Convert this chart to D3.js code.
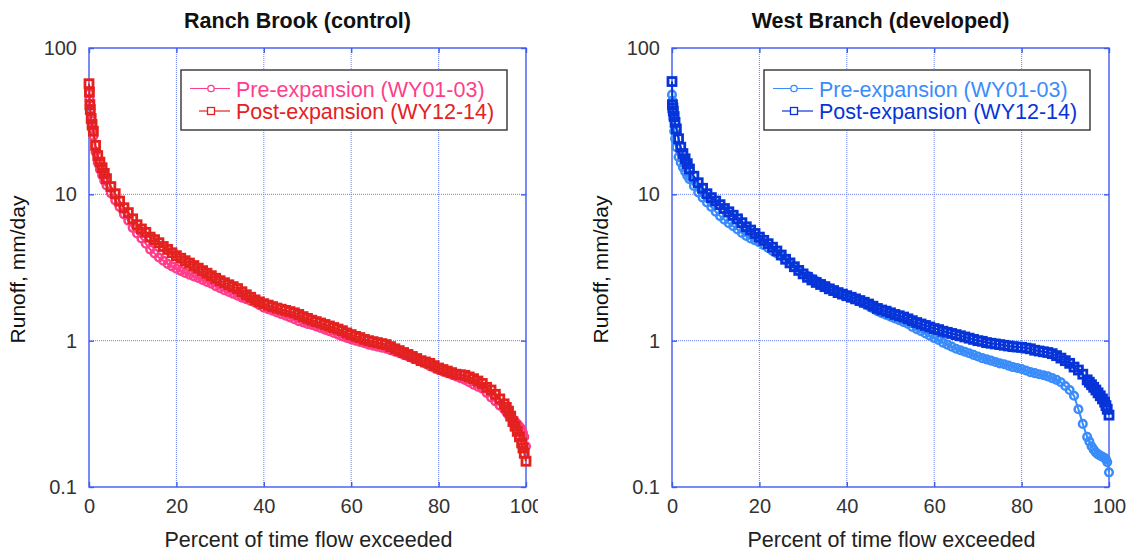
<!DOCTYPE html>
<html>
<head>
<meta charset="utf-8">
<script src="https://cdn.jsdelivr.net/npm/d3@7"></script>
<style>
  body { margin: 0; background: #fff; }
  svg { display: block; font-family: "Liberation Sans", Arial, Helvetica, sans-serif; }
</style>
</head>
<body>
<div id="chart"></div>
<script>
// percent of time flow exceeded (shared by all four curves)
const exceedPct = [0, 0.1, 0.2, 0.3, 0.5, 0.7, 1, 1.5, 2, 2.5, 3, 3.5, 4,
  5, 6, 7, 8, 9, 10, 11, 12, 13, 14, 15, 16, 17, 18, 19, 20,
  21, 22, 23, 24, 25, 26, 27, 28, 29, 30,
  31, 32, 33, 34, 35, 36, 37, 38, 39, 40,
  41, 42, 43, 44, 45, 46, 47, 48, 49, 50,
  51, 52, 53, 54, 55, 56, 57, 58, 59, 60,
  61, 62, 63, 64, 65, 66, 67, 68, 69, 70,
  71, 72, 73, 74, 75, 76, 77, 78, 79, 80,
  81, 82, 83, 84, 85, 86, 87, 88, 89, 90,
  91, 92, 93, 94, 95,
  95.5, 96, 96.5, 97, 97.5, 98, 98.5, 99, 99.3, 99.6, 100]

// runoff, mm/day
const ranchPre = [49, 45, 41, 38, 32, 28, 25, 19.5, 16.5, 14.8, 13.5, 12.4, 11.5,
  10.2, 9.1, 8.2, 7.3, 6.6, 5.9, 5.4, 5.0, 4.6, 4.2, 3.95, 3.7, 3.52, 3.35, 3.22, 3.1,
  3.0, 2.9, 2.82, 2.75, 2.68, 2.6, 2.52, 2.45, 2.36, 2.28,
  2.21, 2.15, 2.09, 2.03, 1.97, 1.92, 1.87, 1.82, 1.75, 1.68,
  1.64, 1.60, 1.56, 1.52, 1.48, 1.44, 1.40, 1.36, 1.33, 1.30,
  1.28, 1.25, 1.22, 1.19, 1.16, 1.13, 1.10, 1.07, 1.045, 1.02,
  1.0, 0.98, 0.96, 0.94, 0.925, 0.91, 0.895, 0.88, 0.86, 0.84,
  0.82, 0.80, 0.78, 0.76, 0.74, 0.72, 0.695, 0.67, 0.65, 0.63,
  0.615, 0.60, 0.585, 0.57, 0.555, 0.54, 0.52, 0.50, 0.485, 0.47,
  0.44, 0.41, 0.385, 0.36, 0.34,
  0.325, 0.31, 0.30, 0.29, 0.28, 0.27, 0.26, 0.25, 0.235, 0.22, 0.19]

const ranchPost = [57, 50, 41, 38, 33, 30, 27, 21.6, 18.4, 16.6, 15.2, 13.9, 12.8,
  11.3, 10.1, 9.0, 8.1, 7.5, 6.8, 6.2, 5.8, 5.5, 5.1, 4.9, 4.67, 4.4, 4.2, 3.99, 3.81,
  3.66, 3.52, 3.39, 3.26, 3.13, 3.01, 2.89, 2.78, 2.67, 2.57,
  2.49, 2.41, 2.34, 2.27, 2.16, 2.06, 1.98, 1.90, 1.84, 1.79,
  1.75, 1.71, 1.67, 1.64, 1.61, 1.58, 1.55, 1.51, 1.46, 1.42,
  1.38, 1.35, 1.32, 1.29, 1.26, 1.23, 1.20, 1.17, 1.13, 1.10,
  1.07, 1.05, 1.02, 1.00, 0.985, 0.97, 0.955, 0.94, 0.91, 0.88,
  0.855, 0.83, 0.805, 0.78, 0.755, 0.73, 0.715, 0.70, 0.675, 0.65,
  0.635, 0.62, 0.605, 0.59, 0.585, 0.58, 0.565, 0.55, 0.53, 0.51,
  0.48, 0.46, 0.43, 0.40, 0.37,
  0.35, 0.33, 0.305, 0.28, 0.26, 0.24, 0.22, 0.20, 0.185, 0.17, 0.15]

const westPre = [48, 43.6, 38, 33, 27, 24, 21, 18, 16.5, 15.3, 14.3, 13.4, 12.7,
  11.4, 10.3, 9.5, 8.8, 8.2, 7.6, 7.1, 6.7, 6.35, 6.05, 5.75, 5.45, 5.2, 5.0, 4.85, 4.7,
  4.5, 4.3, 4.1, 3.95, 3.8, 3.6, 3.38, 3.2, 3.03, 2.88,
  2.78, 2.66, 2.56, 2.46, 2.37, 2.28, 2.21, 2.14, 2.08, 2.03,
  1.97, 1.91, 1.85, 1.79, 1.73, 1.66, 1.59, 1.54, 1.50, 1.46,
  1.42, 1.38, 1.34, 1.30, 1.24, 1.20, 1.16, 1.12, 1.08, 1.04,
  1.01, 0.97, 0.94, 0.91, 0.88, 0.86, 0.84, 0.82, 0.80, 0.78,
  0.76, 0.745, 0.73, 0.715, 0.70, 0.69, 0.675, 0.66, 0.65, 0.64,
  0.625, 0.61, 0.60, 0.59, 0.58, 0.57, 0.555, 0.54, 0.52, 0.49,
  0.46, 0.42, 0.34, 0.27, 0.22,
  0.205, 0.19, 0.18, 0.172, 0.167, 0.164, 0.161, 0.158, 0.155, 0.148, 0.126]

const westPost = [59, 41, 39, 37, 34, 31, 28, 24, 21, 19, 17.5, 16.2, 14.9,
  13.3, 12.0, 11.0, 10.1, 9.5, 9.0, 8.5, 8.0, 7.6, 7.2, 6.8, 6.4, 6.0, 5.7, 5.4, 5.1,
  4.85, 4.6, 4.35, 4.1, 3.85, 3.6, 3.4, 3.2, 3.02, 2.86,
  2.71, 2.6, 2.5, 2.42, 2.34, 2.26, 2.2, 2.13, 2.08, 2.03,
  1.98, 1.93, 1.88, 1.83, 1.78, 1.72, 1.66, 1.62, 1.59, 1.55,
  1.51, 1.48, 1.45, 1.41, 1.37, 1.33, 1.30, 1.27, 1.24, 1.21,
  1.19, 1.16, 1.14, 1.12, 1.10, 1.08, 1.06, 1.04, 1.02, 1.0,
  0.99, 0.97, 0.96, 0.95, 0.94, 0.93, 0.92, 0.91, 0.905, 0.90,
  0.89, 0.88, 0.86, 0.85, 0.84, 0.83, 0.815, 0.79, 0.76, 0.73,
  0.70, 0.66, 0.63, 0.59, 0.54,
  0.52, 0.50, 0.48, 0.46, 0.44, 0.42, 0.40, 0.38, 0.36, 0.34, 0.31]

const xTicks = [0, 20, 40, 60, 80, 100]
const yTicks = [0.1, 1, 10, 100]
const seriesNames = ["Pre-expansion (WY01-03)", "Post-expansion (WY12-14)"]

const width = 1132, height = 553
const plotW = 437, plotTop = 48, plotBottom = 487
const frameColor = "#3d5cf0", gridColor = "#6b80f2", textColor = "#333"

const svg = d3.select("#chart")
  .append("svg")
  .attr("width", width)
  .attr("height", height)
  .attr("viewBox", [0, 0, width, height])

// left panel's last x label is cut off in the original
svg.append("clipPath").attr("id", "leftClip")
  .append("rect").attr("x", 0).attr("y", 0).attr("width", 538).attr("height", height)

const drawPanel = ({left, title, pre, post, preColor, postColor, clip}) => {
  const x = d3.scaleLinear([0, 100], [left, left + plotW])
  const y = d3.scaleLog([0.1, 100], [plotBottom, plotTop])
  const g = svg.append("g")
  if (clip) g.attr("clip-path", "url(#leftClip)")

  // title
  g.append("text")
    .attr("x", left + plotW / 2 - 10)
    .attr("y", 28)
    .attr("text-anchor", "middle")
    .attr("font-size", 21.5)
    .attr("font-weight", "bold")
    .attr("fill", "#111")
    .text(title)

  // dotted grid
  g.append("g")
    .selectAll("line")
    .data(xTicks.slice(1, -1))
    .join("line")
    .attr("x1", d => x(d)).attr("x2", d => x(d))
    .attr("y1", plotTop).attr("y2", plotBottom)
  g.append("g")
    .selectAll("line")
    .data(yTicks.slice(1, -1))
    .join("line")
    .attr("x1", left).attr("x2", left + plotW)
    .attr("y1", d => y(d)).attr("y2", d => y(d))
  g.selectAll("g line")
    .attr("stroke", gridColor)
    .attr("stroke-width", 1)
    .attr("stroke-dasharray", "1,1")

  // frame
  g.append("rect")
    .attr("x", left).attr("y", plotTop)
    .attr("width", plotW).attr("height", plotBottom - plotTop)
    .attr("fill", "none")
    .attr("stroke", frameColor)
    .attr("stroke-width", 1.4)

  // axes (inward ticks)
  const styleAxis = a => {
    a.select(".domain").remove()
    a.selectAll(".tick line").attr("stroke", frameColor).attr("stroke-width", 1.4)
    a.selectAll(".tick text").attr("fill", textColor).attr("font-size", 20)
  }
  g.append("g")
    .attr("transform", `translate(${left},0)`)
    .call(d3.axisLeft(y).tickValues(yTicks).tickFormat(d => String(d))
      .tickSizeInner(-5).tickSizeOuter(0).tickPadding(12))
    .call(styleAxis)
  g.append("g")
    .attr("transform", `translate(${left + plotW},0)`)
    .call(d3.axisRight(y).tickValues(yTicks).tickFormat("").tickSizeInner(-5).tickSizeOuter(0))
    .call(styleAxis)
  g.append("g")
    .attr("transform", `translate(0,${plotBottom})`)
    .call(d3.axisBottom(x).tickValues(xTicks).tickSizeInner(-5).tickSizeOuter(0).tickPadding(12))
    .call(styleAxis)
  g.append("g")
    .attr("transform", `translate(0,${plotTop})`)
    .call(d3.axisTop(x).tickValues(xTicks).tickFormat("").tickSizeInner(-5).tickSizeOuter(0))
    .call(styleAxis)

  // axis labels
  g.append("text")
    .attr("x", left + plotW / 2 + 1)
    .attr("y", 547)
    .attr("text-anchor", "middle")
    .attr("font-size", 21.5)
    .attr("fill", "#222")
    .text("Percent of time flow exceeded")
  g.append("text")
    .attr("transform", `translate(${left - 64},${(plotTop + plotBottom) / 2 + 2}) rotate(-90)`)
    .attr("text-anchor", "middle")
    .attr("font-size", 21)
    .attr("fill", "#111")
    .text("Runoff, mm/day")

  const line = d3.line().x((d, i) => x(exceedPct[i])).y(d => y(d))

  // pre-expansion: circles
  const gPre = g.append("g").attr("fill", "none").attr("stroke", preColor)
  gPre.append("path").datum(pre).attr("d", line).attr("stroke-width", 2)
  gPre.selectAll("circle")
    .data(pre)
    .join("circle")
    .attr("cx", (d, i) => x(exceedPct[i]))
    .attr("cy", d => y(d))
    .attr("r", 3.8)
    .attr("stroke-width", 2.5)

  // post-expansion: squares
  const gPost = g.append("g").attr("fill", "none").attr("stroke", postColor)
  gPost.append("path").datum(post).attr("d", line).attr("stroke-width", 2)
  gPost.selectAll("rect")
    .data(post)
    .join("rect")
    .attr("x", (d, i) => x(exceedPct[i]) - 4)
    .attr("y", d => y(d) - 4)
    .attr("width", 8)
    .attr("height", 8)
    .attr("stroke-width", 2.8)

  // legend
  const lg = g.append("g").attr("transform", `translate(${left + 92},70)`)
  lg.append("rect")
    .attr("width", 326).attr("height", 60)
    .attr("fill", "#fff")
    .attr("stroke", "#333")
    .attr("stroke-width", 1.4)
  const items = [
    {name: seriesNames[0], color: preColor, shape: "circle", x1: 9},
    {name: seriesNames[1], color: postColor, shape: "square", x1: 18}
  ]
  items.forEach((it, i) => {
    const cy = 18.5 + i * 22.5
    lg.append("line")
      .attr("x1", it.x1).attr("x2", 49)
      .attr("y1", cy).attr("y2", cy)
      .attr("stroke", it.color).attr("stroke-width", 1.2)
    if (it.shape === "circle") {
      lg.append("circle").attr("cx", 30).attr("cy", cy).attr("r", 3.2)
        .attr("fill", "#fff").attr("stroke", it.color).attr("stroke-width", 1.3)
    } else {
      lg.append("rect").attr("x", 26.5).attr("y", cy - 3.5).attr("width", 7).attr("height", 7)
        .attr("fill", "#fff").attr("stroke", it.color).attr("stroke-width", 1.3)
    }
    lg.append("text")
      .attr("x", 55)
      .attr("y", cy + 8)
      .attr("font-size", 21.5)
      .attr("fill", it.color)
      .text(it.name)
  })
}

drawPanel({left: 89, title: "Ranch Brook (control)", pre: ranchPre, post: ranchPost,
  preColor: "#ff3d8b", postColor: "#e3221f", clip: true})
drawPanel({left: 672, title: "West Branch (developed)", pre: westPre, post: westPost,
  preColor: "#3a8cfa", postColor: "#0734d8", clip: false})
</script>
</body>
</html>
